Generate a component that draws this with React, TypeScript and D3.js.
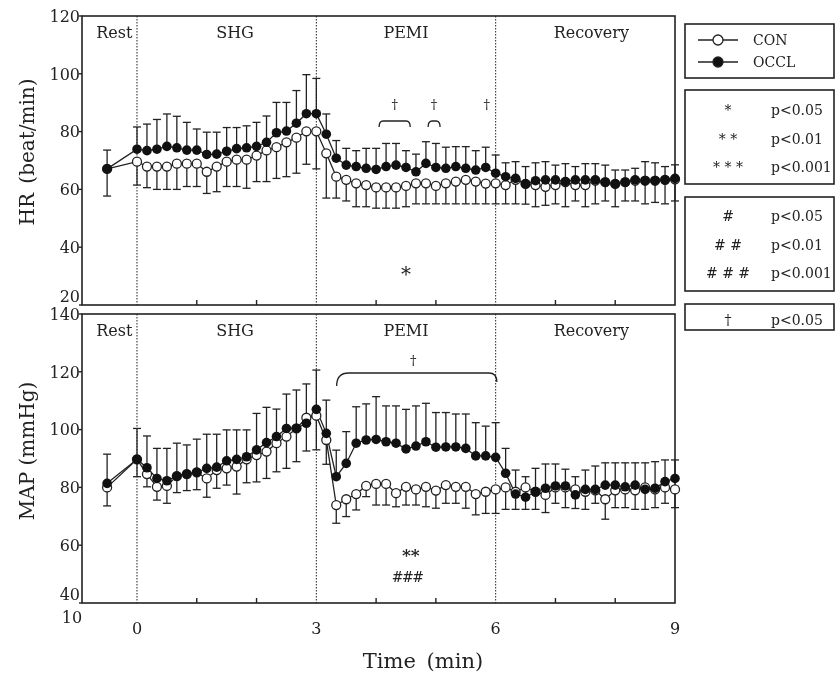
import React, { useEffect, useRef } from 'react';
import * as d3 from 'd3';

// time of each sample in seconds (rest sample at -30 s)
const timeSec = [
  -30,
  0, 10, 20, 30, 40, 50, 60, 70, 80, 90, 100, 110, 120, 130, 140, 150, 160, 170, 180,
  190, 200, 210, 220, 230, 240, 250, 260, 270, 280, 290, 300, 310, 320, 330, 340, 350, 360,
  370, 380, 390, 400, 410, 420, 430, 440, 450, 460, 470, 480, 490, 500, 510, 520, 530, 540,
];

// HR (beat/min)
const hrCon = [
  67.1,
  69.6, 67.9, 67.9, 67.9, 68.9, 68.9, 68.9, 66.1, 67.9, 69.6, 70.3, 70.3, 71.7, 73.5, 74.6, 76.3, 77.9, 80.1, 80.1,
  72.5, 64.4, 63.3, 62.1, 61.5, 60.7, 60.7, 60.7, 61.2, 62.1, 62.1, 61.2, 62.1, 62.7, 63.3, 62.7, 62.0, 62.1,
  61.5, 63.3, 61.9, 61.5, 60.9, 61.5, 62.5, 61.5, 61.5, 63.0, 62.5, 61.9, 62.5, 63.0, 63.0, 63.0, 63.3, 63.5,
];
const hrConSd = [
  9.4,
  8.1, 7.3, 7.9, 7.9, 8.9, 7.9, 7.9, 7.5, 8.7, 8.6, 9.3, 9.9, 9.0, 10.8, 10.8, 11.9, 12.3, 11.4, 13.0,
  15.5, 7.4, 7.3, 8.1, 7.5, 7.2, 7.2, 7.2, 7.2, 7.1, 7.1, 6.2, 7.1, 7.7, 8.3, 7.7, 7.0, 7.1,
  6.5, 8.3, 7.0, 7.5, 6.4, 6.5, 8.5, 5.5, 7.5, 8.0, 6.5, 7.9, 6.5, 7.0, 8.0, 7.5, 8.3, 7.5,
];
const hrOccl = [
  67.1,
  73.9, 73.4, 73.9, 74.9, 74.4, 73.6, 73.6, 72.1, 72.2, 73.2, 74.1, 74.4, 74.9, 76.3, 79.6, 80.2, 82.9, 86.2, 86.2,
  79.1, 70.8, 68.4, 67.9, 67.3, 66.9, 67.9, 68.4, 67.6, 66.1, 69.0, 67.6, 67.3, 67.9, 67.3, 66.7, 67.6, 65.6,
  64.4, 63.8, 61.9, 63.0, 63.3, 63.3, 62.7, 63.3, 63.3, 63.3, 62.5, 61.9, 62.5, 63.3, 63.0, 63.0, 63.3, 63.8,
];
const hrOcclSd = [
  6.5,
  7.7, 9.2, 10.3, 11.2, 10.9, 9.6, 7.3, 7.7, 7.6, 8.2, 7.3, 7.6, 8.3, 9.1, 10.5, 9.9, 11.3, 13.5, 12.2,
  7.0, 6.1, 5.8, 5.5, 6.9, 7.3, 8.0, 7.5, 5.8, 6.1, 7.5, 8.3, 7.3, 6.9, 7.5, 6.7, 7.0, 6.3,
  4.8, 5.8, 6.0, 6.2, 6.3, 5.1, 6.2, 4.6, 5.6, 5.6, 5.9, 4.8, 4.2, 4.0, 6.6, 6.2, 4.6, 4.7,
];

// MAP (mmHg)
const mapCon = [
  80.0,
  89.7, 84.6, 80.2, 80.5, 83.9, 84.6, 85.2, 83.1, 86.0, 86.6, 87.2, 89.7, 91.2, 92.4, 95.3, 97.6, 100.4, 104.1, 104.8,
  96.4, 73.9, 75.9, 77.7, 80.5, 81.2, 81.2, 78.0, 80.2, 79.3, 80.2, 78.9, 80.8, 80.2, 80.2, 77.7, 78.5, 79.3,
  80.0, 78.5, 80.0, 78.5, 77.4, 80.0, 80.0, 79.3, 78.5, 79.0, 75.9, 79.0, 79.3, 79.0, 80.0, 79.3, 80.0, 79.3,
];
const mapConSd = [
  6.4,
  6.0, 4.4, 4.6, 6.0, 5.7, 5.7, 6.0, 6.5, 6.3, 5.8, 9.5, 8.1, 9.3, 9.3, 9.9, 11.0, 11.5, 11.5, 11.8,
  8.4, 6.3, 6.0, 5.5, 3.7, 7.3, 7.3, 4.7, 6.3, 5.4, 6.9, 6.1, 6.3, 5.7, 7.4, 7.2, 7.5, 8.3,
  7.6, 6.1, 7.6, 6.1, 6.1, 5.5, 7.0, 6.6, 6.1, 4.5, 6.9, 6.0, 6.3, 6.6, 7.6, 6.3, 5.5, 6.3,
];
const mapOccl = [
  81.4,
  89.7, 86.8, 83.1, 82.3, 83.9, 84.6, 85.2, 86.6, 87.0, 89.2, 89.7, 90.6, 93.0, 95.5, 97.6, 100.4, 100.4, 102.2, 107.0,
  98.7, 83.7, 88.3, 95.3, 96.4, 96.6, 95.8, 95.3, 93.3, 94.3, 95.8, 93.9, 94.0, 94.0, 93.5, 90.9, 90.9, 90.4,
  84.9, 77.7, 76.6, 78.5, 79.7, 80.5, 80.5, 77.4, 79.3, 79.3, 80.8, 80.8, 80.2, 80.8, 79.3, 79.7, 82.0, 83.1,
];
const mapOcclSd = [
  10.1,
  10.7, 11.0, 10.4, 11.2, 11.4, 10.1, 11.5, 11.8, 11.4, 10.7, 10.2, 9.3, 12.6, 12.2, 9.5, 11.9, 13.3, 13.6, 13.6,
  11.5, 9.2, 11.0, 12.6, 12.5, 14.8, 12.4, 12.9, 13.7, 13.9, 13.3, 12.0, 11.9, 11.4, 11.9, 11.5, 10.3, 12.0,
  8.6, 8.3, 7.1, 8.1, 8.4, 7.6, 5.8, 6.3, 6.7, 8.1, 7.7, 7.7, 8.3, 7.7, 9.2, 9.2, 7.5, 6.4,
];

const phaseNames = ['Rest', 'SHG', 'PEMI', 'Recovery'];
const phaseCentres = [-0.38, 1.64, 4.5, 7.6]; // minutes
const phaseBounds = [0, 3, 6];
const xLabels = [0, 3, 6, 9];
const xMinor = [1, 2, 4, 5, 7, 8];
const hrTicks = [20, 40, 60, 80, 100, 120];
const mapTicks = [40, 60, 80, 100, 120, 140];

// significance marks (minutes)
const hrBrackets = [[4.05, 4.57], [4.87, 5.07]];
const hrDaggers = [4.31, 4.97, 5.85];
const mapBracket = [3.34, 6.02];

const font = '"DejaVu Serif", "Liberation Serif", serif';

function App() {
  const ref = useRef(null);

  useEffect(() => {
    const svg = d3.select(ref.current);
    svg.selectAll('*').remove();

    const left = 82, right = 675;
    const x = d3.scaleLinear().domain([-0.92, 9]).range([left, right]);
    const yHr = d3.scaleLinear().domain([20, 120]).range([305, 16]);
    const yMap = d3.scaleLinear().domain([40, 140]).range([603, 314]);
    const mins = timeSec.map(s => s / 60);

    const drawPanel = (y, ticks, con, conSd, occl, occlSd) => {
      const [y0, y1] = y.range();
      const g = svg.append('g');

      // dotted phase boundaries
      phaseBounds.forEach(t => {
        g.append('line')
          .attr('x1', x(t)).attr('x2', x(t))
          .attr('y1', y1).attr('y2', y0)
          .attr('stroke', '#222').attr('stroke-width', 1)
          .attr('stroke-dasharray', '1.5,1.5');
      });

      g.append('rect')
        .attr('x', left).attr('y', y1)
        .attr('width', right - left).attr('height', y0 - y1)
        .attr('fill', 'none').attr('stroke', '#222').attr('stroke-width', 1.6);

      xMinor.forEach(t => {
        g.append('line')
          .attr('x1', x(t)).attr('x2', x(t))
          .attr('y1', y0).attr('y2', y0 - 5)
          .attr('stroke', '#222').attr('stroke-width', 1.4);
      });

      ticks.forEach((v, i) => {
        g.append('line')
          .attr('x1', left - 3).attr('x2', left)
          .attr('y1', y(v)).attr('y2', y(v))
          .attr('stroke', '#222').attr('stroke-width', 1.4);
        g.append('text')
          .attr('x', left - 2)
          .attr('y', y(v) + (i === 0 ? -9 : 0))
          .attr('dy', '0.36em')
          .attr('text-anchor', 'end')
          .attr('font-family', font).attr('font-size', 16)
          .attr('fill', '#222')
          .text(v);
      });

      phaseNames.forEach((p, i) => {
        g.append('text')
          .attr('x', x(phaseCentres[i])).attr('y', y1 + 16)
          .attr('dy', '0.36em')
          .attr('text-anchor', 'middle')
          .attr('font-family', font).attr('font-size', 16)
          .attr('fill', '#222')
          .text(p);
      });

      const line = d3.line().x((d, i) => x(mins[i])).y(d => y(d));

      // error bars: OCCL upward, CON downward
      const bars = (vals, sds, dir) => {
        vals.forEach((v, i) => {
          const end = y(v + dir * sds[i]);
          g.append('line')
            .attr('x1', x(mins[i])).attr('x2', x(mins[i]))
            .attr('y1', y(v)).attr('y2', end)
            .attr('stroke', '#222').attr('stroke-width', 1.3);
          g.append('line')
            .attr('x1', x(mins[i]) - 4).attr('x2', x(mins[i]) + 4)
            .attr('y1', end).attr('y2', end)
            .attr('stroke', '#222').attr('stroke-width', 1.3);
        });
      };
      bars(occl, occlSd, 1);
      bars(con, conSd, -1);

      g.append('path').datum(con).attr('d', line)
        .attr('fill', 'none').attr('stroke', '#222').attr('stroke-width', 1.3);
      g.append('path').datum(occl).attr('d', line)
        .attr('fill', 'none').attr('stroke', '#222').attr('stroke-width', 1.3);

      g.selectAll('circle.con').data(con).enter().append('circle')
        .attr('cx', (d, i) => x(mins[i])).attr('cy', d => y(d)).attr('r', 4.5)
        .attr('fill', '#fff').attr('stroke', '#222').attr('stroke-width', 1.3);
      g.selectAll('circle.occl').data(occl).enter().append('circle')
        .attr('cx', (d, i) => x(mins[i])).attr('cy', d => y(d)).attr('r', 4.8)
        .attr('fill', '#111');
      return g;
    };

    const gHr = drawPanel(yHr, hrTicks, hrCon, hrConSd, hrOccl, hrOcclSd);
    const gMap = drawPanel(yMap, mapTicks, mapCon, mapConSd, mapOccl, mapOcclSd);

    const txt = (g, tx, ty, s, size, extra) => {
      const t = g.append('text')
        .attr('x', tx).attr('y', ty).attr('dy', '0.36em')
        .attr('text-anchor', 'middle')
        .attr('font-family', font).attr('font-size', size)
        .attr('fill', '#222').text(s);
      if (extra) extra(t);
      return t;
    };

    // HR annotations
    hrBrackets.forEach(([a, b]) => {
      gHr.append('path')
        .attr('d', `M${x(a)},127 Q${x(a)},121 ${x(a) + 4},121 L${x(b) - 4},121 Q${x(b)},121 ${x(b)},127`)
        .attr('fill', 'none').attr('stroke', '#222').attr('stroke-width', 1.3);
    });
    hrDaggers.forEach(t => txt(gHr, x(t), 104, '†', 13));
    txt(gHr, x(4.5), 274, '*', 20);

    // MAP annotations
    const [ma, mb] = mapBracket;
    gMap.append('path')
      .attr('d', `M${x(ma)},386 Q${x(ma)},373 ${x(ma) + 12},373 L${x(mb) - 8},373 Q${x(mb)},373 ${x(mb)},382`)
      .attr('fill', 'none').attr('stroke', '#222').attr('stroke-width', 1.3);
    txt(gMap, x(4.62), 360, '†', 13);
    txt(gMap, x(4.58), 555, '**', 17, t => t.attr('font-weight', 'bold'));
    txt(gMap, x(4.52), 577, '###', 14, t => t.attr('letter-spacing', -1.5));

    // x axis labels
    xLabels.forEach(t => txt(svg, x(t), 628, t, 16));
    txt(svg, 72, 617, '10', 16);
    txt(svg, 423, 660, 'Time (min)', 21, t => t.attr('word-spacing', 4));

    // y titles
    svg.append('text')
      .attr('transform', 'translate(27,152) rotate(-90)')
      .attr('text-anchor', 'middle').attr('dy', '0.36em')
      .attr('font-family', font).attr('font-size', 20).attr('fill', '#222')
      .attr('word-spacing', 3)
      .text('HR (beat/min)');
    svg.append('text')
      .attr('transform', 'translate(27,451) rotate(-90)')
      .attr('text-anchor', 'middle').attr('dy', '0.36em')
      .attr('font-family', font).attr('font-size', 20).attr('fill', '#222')
      .text('MAP (mmHg)');

    // legend boxes
    const box = (y1, y2) => svg.append('rect')
      .attr('x', 685).attr('y', y1).attr('width', 149).attr('height', y2 - y1)
      .attr('fill', 'none').attr('stroke', '#222').attr('stroke-width', 1.6);
    box(24, 78);
    box(90, 184);
    box(197, 291);
    box(304, 330);

    const lg = svg.append('g');
    [['CON', 40, '#fff'], ['OCCL', 62, '#111']].forEach(([name, ly, fill]) => {
      lg.append('line').attr('x1', 698).attr('x2', 738).attr('y1', ly).attr('y2', ly)
        .attr('stroke', '#222').attr('stroke-width', 1.3);
      lg.append('circle').attr('cx', 718).attr('cy', ly).attr('r', 5)
        .attr('fill', fill).attr('stroke', '#222').attr('stroke-width', 1.3);
      lg.append('text').attr('x', 753).attr('y', ly).attr('dy', '0.36em')
        .attr('font-family', font).attr('font-size', 14).attr('fill', '#222')
        .text(name);
    });

    const rows = [
      ['*', 'p<0.05', 110], ['* *', 'p<0.01', 139], ['* * *', 'p<0.001', 167],
      ['#', 'p<0.05', 216], ['# #', 'p<0.01', 245], ['# # #', 'p<0.001', 273],
      ['†', 'p<0.05', 320],
    ];
    rows.forEach(([sym, p, ry]) => {
      txt(lg, 728, ry, sym, 14);
      lg.append('text').attr('x', 771).attr('y', ry).attr('dy', '0.36em')
        .attr('font-family', font).attr('font-size', 14).attr('fill', '#222')
        .text(p);
    });
  }, []);

  return (
    <svg ref={ref} width={836} height={673}
      style={{ position: 'absolute', left: 0, top: 0, background: '#fff', willChange: 'transform' }} />
  );
}

export default App;
